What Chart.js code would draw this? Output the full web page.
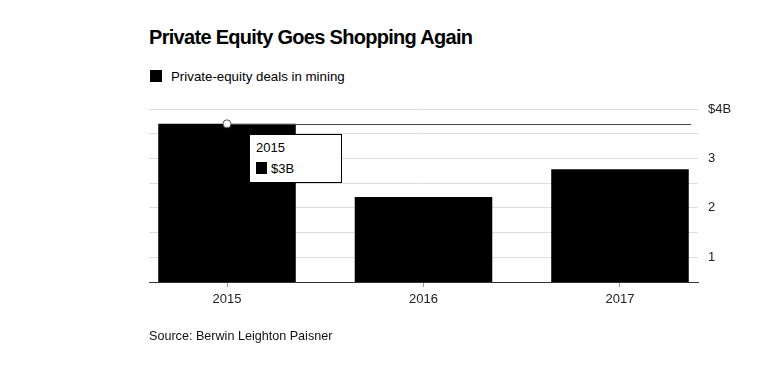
<!DOCTYPE html>
<html>
<head>
<meta charset="utf-8">
<script src="https://cdn.jsdelivr.net/npm/chart.js@4"></script>
<style>
  html, body { margin: 0; padding: 0; background: #fff; }
  body { width: 768px; height: 370px; position: relative; overflow: hidden; font-family: "Liberation Sans", Arial, sans-serif; color: #000; }
  #title { position: absolute; left: 149px; top: 26px; font-size: 20px; font-weight: bold; letter-spacing: -0.7px; white-space: nowrap; }
  #legend { position: absolute; left: 150px; top: 69px; font-size: 13.3px; white-space: nowrap; }
  #legend span.sw { display: inline-block; width: 12px; height: 12px; background: #000; vertical-align: -1px; margin-right: 9px; }
  #source { position: absolute; left: 149px; top: 329px; font-size: 12.6px; color: #111; white-space: nowrap; }
  #chart { position: absolute; left: 0; top: 0; }
  #tip { position: absolute; background: #fff; border: 1px solid #000; width: 91px; height: 47px; font-size: 13px; display: none; }
  #tip .t { position: absolute; left: 6px; top: 5px; }
  #tip .sw { position: absolute; left: 6px; top: 27px; width: 11px; height: 12px; background: #000; }
  #tip .v { position: absolute; left: 21px; top: 26px; }
</style>
</head>
<body>
<div id="title">Private Equity Goes Shopping Again</div>
<div id="legend"><span class="sw"></span>Private-equity deals in mining</div>
<canvas id="chart" width="768" height="370"></canvas>
<div id="tip"><div class="t"></div><div class="sw"></div><div class="v"></div></div>
<div id="source">Source: Berwin Leighton Paisner</div>
<script>
// data (billions of dollars)
const years = [2015, 2016, 2017];
const deals = [3.7, 2.22, 2.78];
const seriesName = 'Private-equity deals in mining';

function fmtB(v) { return '$' + Math.trunc(v) + 'B'; }

function externalTip(context) {
  const tip = document.getElementById('tip');
  const t = context.tooltip;
  if (t.opacity === 0 || !t.dataPoints || !t.dataPoints.length) { tip.style.display = 'none'; return; }
  const dp = t.dataPoints[0];
  tip.querySelector('.t').textContent = String(years[dp.dataIndex]);
  tip.querySelector('.v').textContent = fmtB(dp.parsed.y);
  tip.style.left = (t.caretX + 22) + 'px';
  tip.style.top = (t.caretY + 10) + 'px';
  tip.style.display = 'block';
}

// crosshair + hover dot at the active bar
const hoverMark = {
  id: 'hoverMark',
  afterDatasetsDraw(chart) {
    const act = chart.getActiveElements();
    if (!act.length) return;
    const el = act[0].element;
    const ctx = chart.ctx;
    ctx.save();
    ctx.strokeStyle = '#444';
    ctx.lineWidth = 1;
    ctx.beginPath();
    ctx.moveTo(el.x, Math.round(el.y) + 0.5);
    ctx.lineTo(chart.chartArea.right - 7, Math.round(el.y) + 0.5);
    ctx.stroke();
    ctx.beginPath();
    ctx.arc(el.x, el.y, 4, 0, Math.PI * 2);
    ctx.fillStyle = '#fff';
    ctx.fill();
    ctx.strokeStyle = '#555';
    ctx.stroke();
    ctx.restore();
  }
};

const chart = new Chart(document.getElementById('chart'), {
  type: 'bar',
  data: {
    datasets: [{
      label: seriesName,
      data: years.map((y, i) => ({ x: y, y: deals[i] })),
      backgroundColor: '#000',
      hoverBackgroundColor: '#000',
      borderWidth: 0,
      barPercentage: 0.7,
      categoryPercentage: 1
    }]
  },
  options: {
    responsive: false,
    devicePixelRatio: 1,
    animation: false,
    events: [],
    layout: { padding: { left: 149, top: 109, right: 0, bottom: 0 } },
    plugins: {
      legend: { display: false },
      title: { display: false },
      tooltip: { enabled: false, external: externalTip, mode: 'nearest', intersect: false }
    },
    scales: {
      x: {
        type: 'linear',
        offset: false,
        min: years[0] - 0.397,
        max: years[years.length - 1] + 0.397,
        afterBuildTicks: s => { s.ticks = years.map(v => ({ value: v })); },
        afterFit: s => { s.height = 88; },
        border: { color: '#333', width: 1 },
        grid: { offset: false, drawOnChartArea: false, drawTicks: true, tickLength: 5, color: '#999' },
        ticks: {
          color: '#222',
          padding: 5,
          font: { family: 'Liberation Sans', size: 13 },
          callback: v => String(v)
        }
      },
      y: {
        position: 'right',
        min: 0.5,
        max: 4,
        afterFit: s => { s.width = 70; },
        border: { display: false },
        grid: { color: '#dcdcdc', lineWidth: 1, drawTicks: false },
        ticks: {
          stepSize: 0.5,
          padding: 10,
          color: '#222',
          font: { family: 'Liberation Sans', size: 13 },
          callback: v => v === 4 ? '$4B' : (Number.isInteger(v) ? String(v) : '')
        }
      }
    }
  },
  plugins: [hoverMark]
});

chart.setActiveElements([{ datasetIndex: 0, index: 0 }]);
chart.tooltip.setActiveElements([{ datasetIndex: 0, index: 0 }], { x: 0, y: 0 });
chart.update();
</script>
</body>
</html>
